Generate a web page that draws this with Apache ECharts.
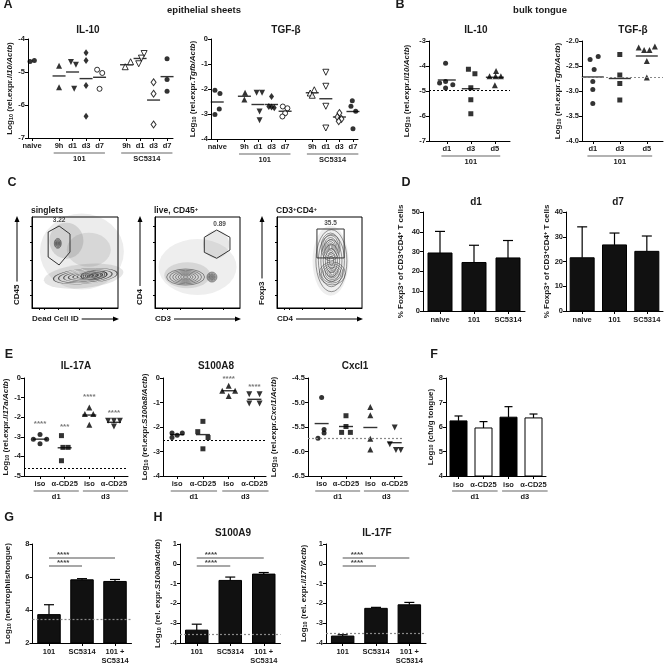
<!DOCTYPE html>
<html><head><meta charset="utf-8">
<script src="https://cdn.jsdelivr.net/npm/echarts@6/dist/echarts.min.js"></script>
<style>html,body{margin:0;padding:0;background:#fff}#c{width:667px;height:665px}</style>
</head><body><div id="c"></div>
<script>
// ================= DATA =================
// Panel A – epithelial sheets
const aLabels = ['naive','9h','d1','d3','d7','9h','d1','d3','d7'];
const aPos = [0,2,3,4,5,7,8,9,10];
const aMarkers = ['circle','triangle','triangleDown','diamond','circleOpen','triangleOpen','triangleDownOpen','diamondOpen','circle'];
const aGroups = [{name:'101', from:1, to:4}, {name:'SC5314', from:5, to:8}];
const aIL10 = [[-4.68,-4.65],[-4.81,-5.46],[-4.70,-4.78,-5.51],[-4.42,-4.65,-5.41,-6.34],[-4.93,-5.03,-5.51],[-4.84,-4.69],[-4.44,-4.58,-4.75],[-5.31,-5.66,-6.59],[-4.60,-5.23,-5.58]];
const aIL10Jit = [[-0.15,0.17],[0,0],[-0.12,0.25,0.12],[0,0,0,0],[-0.18,0.2,0],[-0.1,0.3],[0.3,0.1,-0.1],[0,0,0],[0,0,0]];
const aIL10Mean = [null,-5.12,-5.0,-5.2,-5.16,-4.78,-4.59,-5.85,-5.14];
const aTGF = [[-2.05,-2.18,-2.80,-3.02],[-2.15,-2.42],[-2.15,-2.15,-2.90,-3.25],[-2.30,-2.70,-2.72,-2.75],[-2.70,-2.77,-2.97,-3.10],[-2.03,-2.16,-2.25],[-1.33,-1.89,-2.69,-3.56],[-2.96,-3.12,-3.20,-3.29],[-2.47,-2.69,-2.89,-3.59]];
const aTGFJit = [[-0.17,0.2,0.15,-0.17],[0.05,0],[-0.1,0.3,0.12,0.12],[0,-0.2,0,0.2],[-0.17,0.17,0,-0.2],[0.15,-0.15,0],[0,0,0,0],[0,-0.15,0.15,-0.05],[-0.05,-0.15,0.2,0]];
const aTGFMean = [-2.52,-2.29,-2.62,-2.62,-2.89,-2.15,-2.39,-3.12,-2.90];

// Panel B – bulk tongue
const bLabels = ['d1','d3','d5'];
const bPos = [0,1,2];
const bMarkers = ['circle','square','triangle'];
const bGroups = [{name:'101', from:0, to:2}];
const bIL10 = [[-3.89,-4.68,-4.62,-4.75,-4.88],[-4.13,-4.31,-4.87,-5.35,-5.91],[-4.20,-4.41,-4.41,-4.41,-4.77]];
const bIL10Jit = [[-0.05,-0.3,-0.05,0.25,-0.05],[-0.1,0.17,0,0,0],[0.05,-0.22,0.03,0.25,0]];
const bIL10Mean = [-4.56,-4.91,-4.45];
const bIL10Ref = -4.95;
const bTGF = [[-2.31,-2.37,-2.57,-2.81,-2.97,-3.25],[-2.27,-2.68,-2.85,-3.18],[-2.11,-2.13,-2.18,-2.18,-2.40,-2.73]];
const bTGFJit = [[0.2,-0.1,0.05,0,0,0],[0,0,0,0],[0.3,-0.3,-0.1,0.1,0,0]];
const bTGFMean = [-2.72,-2.75,-2.30];
const bTGFRef = -2.72;

// Panel C – flow gates (axis units 0-100)
const cGate1 = [[18.8,83.5],[31.5,90.1],[44.2,81.3],[44.2,61.5],[31.5,47.3],[18.8,56],[18.8,83.5]];
const cGate2 = [[58,77.7],[72.6,85.7],[88.2,77.7],[88.2,63.7],[72.6,54.6],[58,61.2],[58,77.7]];
const cGate3 = [[47,86.8],[79,86.8],[79,55],[47,55],[47,86.8]];
const cGateLabels = ['3.22','0.89','35.5'];
const cGateLabelPos = [[31.5,96],[76,92],[63,93]];
// populations: [cx, cy, w(px), h(px), rotation]
const cPops1 = [[62,35,64,15,5],[72,36,26,9,5],[30,71,7,10,0]];
const cPops2 = [[36,34,38,16,0],[67,34,10,10,0]];
const cPops3 = [[63,67,19,28,0],[65,38,26,23,0],[64,52,31,62,0]];
// clouds: [cx, cy, w, h, rot, opacity]
const cCloud1 = [[58,62,84,76,0,0.10],[40,74,34,36,0,0.16],[66,64,44,34,0,0.12],[60,35,80,24,6,0.14]];
const cCloud2 = [[50,45,78,56,0,0.09],[38,36,46,26,0,0.14],[72,70,26,28,0,0.12]];
const cCloud3 = [[63,52,36,70,0,0.09]];

// Panel D – % Foxp3+ of CD3+CD4+ T cells
const dLabels = ['naive','101','SC5314'];
const dD1 = [29.3,24.5,26.8];
const dD1Err = [40.2,33.2,35.6];
const dD7 = [21.5,26.7,24.1];
const dD7Err = [34.0,31.5,30.3];

// Panel E
const eLabels = ['iso','α-CD25','iso','α-CD25'];
const ePos = [0,1,2,3];
const eMarkers = ['circle','square','triangle','triangleDown'];
const eGroups = [{name:'d1', from:0, to:1},{name:'d3', from:2, to:3}];
const eIL17A = [[-3.13,-2.88,-3.35,-3.13],[-2.94,-3.54,-3.54,-4.22],[-1.50,-1.84,-1.84,-2.38],[-2.18,-2.18,-2.18,-2.48]];
const eIL17AJit = [[-0.27,0,0,0.27],[-0.13,-0.07,0.14,-0.13],[0,-0.18,0.16,0],[-0.24,0,0.24,0]];
const eIL17AMean = [-3.12,-3.56,-1.89,-2.26];
const eIL17AStars = ['****','***','****','****'];
const eIL17AStarY = [-2.35,-2.5,-0.95,-1.78];
const eIL17ARef = -4.63;
const eS100A8 = [[-2.24,-2.34,-2.24,-2.43],[-1.77,-2.19,-2.43,-2.89],[-0.32,-0.52,-0.52,-0.73],[-0.66,-0.66,-1.04,-1.04]];
const eS100A8Jit = [[-0.2,0,0.2,-0.2],[0,-0.2,0.2,0],[0,-0.25,0.25,0],[-0.2,0.2,-0.2,0.2]];
const eS100A8Mean = [-2.31,-2.31,-0.52,-0.87];
const eS100A8Stars = ['','','****','****'];
const eS100A8StarY = [0,0,-0.05,-0.35];
const eS100A8Ref = -2.56;
const eCxcl1 = [[-4.90,-5.55,-5.62,-5.73],[-5.27,-5.49,-5.61,-5.61],[-5.09,-5.26,-5.74,-5.96],[-5.51,-5.85,-5.97,-5.97]];
const eCxcl1Jit = [[0,0.1,0.1,-0.15],[0,0,-0.18,0.18],[0,0,0,0],[0,-0.2,0.05,0.25]];
const eCxcl1Mean = [-5.43,-5.49,-5.51,-5.82];
const eCxcl1Ref = -5.72;

// Panel F – Log10 cfu/g tongue
const fLabels = ['iso','α-CD25','iso','α-CD25'];
const fValues = [6.25,5.96,6.40,6.37];
const fErr = [6.45,6.22,6.83,6.53];

// Panel G / H
const ghLabels = ['101','SC5314','101 +\nSC5314'];
const gValues = [3.72,5.83,5.73];
const gErr = [4.32,5.90,5.85];
const gRef = 3.45;
const gSig = [7.15,6.70];
const hS100A9 = [-3.35,-0.84,-0.52];
const hS100A9Err = [-3.05,-0.67,-0.44];
const hS100A9Ref = -3.55;
const hIL17F = [-3.65,-2.25,-2.07];
const hIL17FErr = [-3.58,-2.20,-1.95];
const hIL17FRef = -3.52;
const hSig = [0.29,-0.08];
const sigEnds = [2,1];

// ================= BUILD =================
const FONT = '"Liberation Sans", Arial, Helvetica, sans-serif';
const TXT = '#1a1a1a';
const chart = echarts.init(document.getElementById('c'), null, {renderer:'canvas', width:667, height:665});
const grids=[], xAxes=[], yAxes=[], series=[], G=[], decor=[];
const mctx = document.createElement('canvas').getContext('2d');
function tw(t, f){ mctx.font=f; return mctx.measureText(t).width; }
const LABFONT = 'bold 7.5px '+FONT;

const richName = {
  n:{fontFamily:FONT, fontWeight:'bold', fontSize:8, color:TXT},
  i:{fontFamily:FONT, fontWeight:'bold', fontStyle:'italic', fontSize:8, color:TXT},
  s:{fontFamily:FONT, fontWeight:'bold', fontSize:5.5, color:TXT, verticalAlign:'bottom', padding:[3,0,0,0]},
  p:{fontFamily:FONT, fontWeight:'bold', fontSize:5.5, color:TXT, verticalAlign:'top', padding:[0,0,3,0]}
};
function logName(gene){ return '{n|Log}{s|10}{n| (rel.expr.}{i|'+gene+'/Actb}{n|)}'; }
function logName2(gene){ return '{n|Log}{s|10}{n| (rel. expr.}{i|'+gene+'/Actb}{n|)}'; }

function markerStyle(m){
  const open = m.endsWith('Open'); const b = open ? m.slice(0,-4) : m;
  return {
    symbol: b==='triangleDown' ? 'triangle' : (b==='square' ? 'rect' : b),
    symbolRotate: b==='triangleDown' ? 180 : 0,
    symbolSize: b==='circle' ? 5 : (b==='diamond' ? [5,7] : (b==='square' ? 5 : 6)),
    itemStyle: open ? {color:'#fff', borderColor:'#000', borderWidth:1} : {color:'#000'}
  };
}
function yAxisCfg(gi, c){
  return {gridIndex:gi, type:'value', min:c.yMin, max:c.yMax, interval:c.yInt,
    axisLine:{show:true, onZero:false, lineStyle:{color:'#000', width:1}},
    axisTick:{show:true, length:3, lineStyle:{color:'#000'}},
    axisLabel:{fontFamily:FONT, fontWeight:'bold', fontSize:7.5, color:TXT, margin:3,
      formatter: v => c.yDec ? v.toFixed(c.yDec) : String(v)},
    splitLine:{show:false},
    name:c.yName, nameLocation:'middle', nameRotate:90, nameGap:c.yGap,
    nameTextStyle:{rich:richName}};
}

function scatterPanel(c){
  const gi = grids.length;
  grids.push({left:c.left, top:c.top, width:c.width, height:c.height});
  xAxes.push({gridIndex:gi, type:'value', min:c.xMin, max:c.xMax,
    axisLine:{show:true, onZero:false, lineStyle:{color:'#000', width:1}},
    axisTick:{show:true, customValues:c.pos, length:3, lineStyle:{color:'#000'}},
    axisLabel:{show:true, customValues:c.pos, fontFamily:FONT, fontWeight:'bold', fontSize:7.5, color:TXT, margin:4,
      formatter: v => { const i=c.pos.indexOf(Math.round(v)); return i>=0 ? c.labels[i] : ''; }},
    splitLine:{show:false}});
  yAxes.push(yAxisCfg(gi, c));
  c.values.forEach((vals, g) => {
    const ms = markerStyle(c.markers[g]);
    series.push(Object.assign({type:'scatter', xAxisIndex:gi, yAxisIndex:gi, z:3, clip:false,
      data: vals.map((v,k) => [c.pos[g] + (c.jit[g][k]||0), v])}, ms));
  });
  const meanSeries = {type:'scatter', xAxisIndex:gi, yAxisIndex:gi, symbol:'rect', symbolSize:[c.meanW,1.4], z:2,
    itemStyle:{color:'#000'},
    data: c.means.map((m,g) => m===null ? null : [c.pos[g], m]).filter(d => d)};
  if (c.ref !== undefined) {
    meanSeries.markLine = {silent:true, symbol:['none','none'], label:{show:false},
      lineStyle:{type:[2,2], color:c.refColor, width:1.2}, data:[{yAxis:c.ref}]};
  }
  series.push(meanSeries);
  if (c.stars) {
    series.push({type:'scatter', xAxisIndex:gi, yAxisIndex:gi, symbolSize:0, clip:false, z:4,
      data: c.stars.map((s,g) => s ? {value:[c.pos[g], c.starY[g]], name:s} : null).filter(d=>d),
      label:{show:true, position:'inside', formatter: p => p.name, fontFamily:FONT, fontSize:8, color:'#555', fontWeight:'bold'}});
  }
  if (c.groups) decor.push({gi, groups:c.groups, bottom:c.top+c.height, vals:c.pos, labels:c.labels});
  return gi;
}

function barPanel(c){
  const gi = grids.length;
  grids.push({left:c.left, top:c.top, width:c.width, height:c.height});
  xAxes.push({gridIndex:gi, type:'category', data:c.labels, boundaryGap:true,
    axisLine:{show:true, onZero:false, lineStyle:{color:'#000', width:1}},
    axisTick:{show:true, alignWithLabel:true, length:3, lineStyle:{color:'#000'}},
    axisLabel:{interval:0, fontFamily:FONT, fontWeight:'bold', fontSize:7.5, color:TXT, margin:4, lineHeight:9},
    splitLine:{show:false}});
  yAxes.push(yAxisCfg(gi, c));
  series.push({type:'custom', xAxisIndex:gi, yAxisIndex:gi, z:3,
    data: c.values.map((v,k) => [k, v, c.errs[k]]),
    renderItem: (params, api) => {
      const k = api.value(0);
      const base = api.coord([k, c.yMin]), top = api.coord([k, api.value(1)]), et = api.coord([k, api.value(2)]);
      const w = c.barW, fill = c.fills ? c.fills[k] : '#111';
      return {type:'group', children:[
        {type:'line', shape:{x1:top[0], y1:top[1], x2:et[0], y2:et[1]}, style:{stroke:'#000', lineWidth:1.2}},
        {type:'line', shape:{x1:et[0]-c.capW/2, y1:et[1], x2:et[0]+c.capW/2, y2:et[1]}, style:{stroke:'#000', lineWidth:1.2}},
        {type:'rect', shape:{x:base[0]-w/2, y:top[1], width:w, height:base[1]-top[1]}, style:{fill, stroke:'#000', lineWidth:1}}
      ]};
    }});
  const ml = [];
  if (c.ref !== undefined) ml.push({yAxis:c.ref, lineStyle:{type:[2,2], color:'#888', width:1.2}, label:{show:false}});
  if (c.sig) c.sig.forEach((y,j) => ml.push([
    {coord:[0, y], lineStyle:{type:'solid', color:'#8a8a8a', width:1.6},
     label:{show:true, formatter:'****', position:'insideStartTop', distance:[8,-1], fontFamily:FONT, fontWeight:'bold', fontSize:8, color:'#444'}},
    {coord:[c.sigEnd[j], y]}]));
  if (ml.length) series.push({type:'scatter', xAxisIndex:gi, yAxisIndex:gi, symbolSize:0, data:[[0, c.yMin]],
    markLine:{silent:true, symbol:['none','none'], data:ml}});
  if (c.groups) decor.push({gi, groups:c.groups, bottom:c.top+c.height, vals:c.labels.map((l,k)=>k), labels:c.labels});
  return gi;
}

function flowPanel(c){
  const gi = grids.length;
  grids.push({left:c.left, top:c.top, width:c.width, height:c.height, show:true, borderColor:'#000', borderWidth:1, backgroundColor:'#fff'});
  xAxes.push({gridIndex:gi, type:'value', min:0, max:100, axisLine:{show:true, onZero:false, lineStyle:{color:'#000'}},
    axisTick:{show:true, customValues:[8,14,30,55,80], length:2, lineStyle:{color:'#000'}}, axisLabel:{show:false}, splitLine:{show:false}});
  yAxes.push({gridIndex:gi, type:'value', min:0, max:100, axisLine:{show:true, onZero:false, lineStyle:{color:'#000'}},
    axisTick:{show:true, customValues:[14,30,52,72,90], length:2, lineStyle:{color:'#000'}}, axisLabel:{show:false}, splitLine:{show:false}});
  series.push({type:'scatter', xAxisIndex:gi, yAxisIndex:gi, z:1, silent:true,
    data: c.cloud.map(d => ({value:d, itemStyle:{opacity:d[5]}})),
    symbolSize: v => [v[2], v[3]], symbolRotate: v => v[4], itemStyle:{color:'#444'}});
  const rings = [];
  c.pops.forEach(p => [1,0.84,0.68,0.53,0.39,0.26,0.14].forEach(f => rings.push([p[0],p[1],p[2]*f,p[3]*f,p[4]])));
  series.push({type:'scatter', xAxisIndex:gi, yAxisIndex:gi, z:2, silent:true, data:rings,
    symbolSize: v => [v[2], v[3]], symbolRotate: v => v[4],
    itemStyle:{color:'rgba(0,0,0,0)', borderColor:'#333', borderWidth:0.6}});
  series.push({type:'line', xAxisIndex:gi, yAxisIndex:gi, z:4, data:c.gate, symbol:'none',
    lineStyle:{color:'#333', width:1}});
  series.push({type:'scatter', xAxisIndex:gi, yAxisIndex:gi, z:5, symbolSize:0,
    data:[{value:c.labelPos, name:c.label}],
    label:{show:true, position:'inside', formatter:p=>p.name, fontFamily:FONT, fontWeight:'bold', fontSize:6.5, color:'#222'}});
  c.gi = gi;
  return c;
}

// ---- A ----
scatterPanel({left:28, top:39, width:145, height:99, xMin:-0.3, xMax:10.44, pos:aPos, labels:aLabels, markers:aMarkers,
  values:aIL10, jit:aIL10Jit, means:aIL10Mean, meanW:13, yMin:-7, yMax:-4, yInt:1, yName:logName('Il10'), yGap:14, groups:aGroups});
scatterPanel({left:211, top:39, width:147, height:100, xMin:-0.46, xMax:10.37, pos:aPos, labels:aLabels, markers:aMarkers,
  values:aTGF, jit:aTGFJit, means:aTGFMean, meanW:13, yMin:-4, yMax:0, yInt:1, yName:logName('Tgfb'), yGap:14, groups:aGroups});
// ---- B ----
scatterPanel({left:429, top:41, width:81, height:100, xMin:-0.74, xMax:2.63, pos:bPos, labels:bLabels, markers:bMarkers,
  values:bIL10, jit:bIL10Jit, means:bIL10Mean, meanW:18, yMin:-7, yMax:-3, yInt:1, yName:logName('Il10'), yGap:18,
  ref:bIL10Ref, refColor:'#000', groups:bGroups});
scatterPanel({left:582, top:41, width:81, height:100, xMin:-0.4, xMax:2.6, pos:bPos, labels:bLabels, markers:bMarkers,
  values:bTGF, jit:bTGFJit, means:bTGFMean, meanW:22, yMin:-4, yMax:-2, yInt:0.5, yDec:1, yName:logName('Tgfb'), yGap:18,
  ref:bTGFRef, refColor:'#888', groups:bGroups});
// ---- C ----
const flows = [
  flowPanel({left:32, top:217, width:86, height:91, gate:cGate1, label:cGateLabels[0], labelPos:cGateLabelPos[0], pops:cPops1, cloud:cCloud1,
    title:'{t|singlets}', xName:'Dead Cell ID', yName:'CD45'}),
  flowPanel({left:155, top:217, width:85, height:91, gate:cGate2, label:cGateLabels[1], labelPos:cGateLabelPos[1], pops:cPops2, cloud:cCloud2,
    title:'{t|live, CD45}{p|+}', xName:'CD3', yName:'CD4'}),
  flowPanel({left:277, top:217, width:85, height:91, gate:cGate3, label:cGateLabels[2], labelPos:cGateLabelPos[2], pops:cPops3, cloud:cCloud3,
    title:'{t|CD3}{p|+}{t|CD4}{p|+}', xName:'CD4', yName:'Foxp3'})
];
// ---- D ----
const dName = '{n|% Foxp3}{p|+}{n| of CD3}{p|+}{n|CD4}{p|+}{n| T cells}';
barPanel({left:423, top:212, width:102, height:99, labels:dLabels, values:dD1, errs:dD1Err, barW:24, capW:10,
  yMin:0, yMax:50, yInt:10, yName:dName, yGap:18});
barPanel({left:566, top:212, width:97, height:99, labels:dLabels, values:dD7, errs:dD7Err, barW:24, capW:10,
  yMin:0, yMax:40, yInt:10, yName:dName, yGap:12});
// ---- E ----
scatterPanel({left:24, top:378, width:104, height:98, xMin:-0.65, xMax:3.57, pos:ePos, labels:eLabels, markers:eMarkers,
  values:eIL17A, jit:eIL17AJit, means:eIL17AMean, meanW:14, yMin:-5, yMax:0, yInt:1, yName:logName('Il17a'), yGap:14,
  ref:eIL17ARef, refColor:'#000', stars:eIL17AStars, starY:eIL17AStarY, groups:eGroups});
scatterPanel({left:163, top:378, width:103, height:98, xMin:-0.55, xMax:3.45, pos:ePos, labels:eLabels, markers:eMarkers,
  values:eS100A8, jit:eS100A8Jit, means:eS100A8Mean, meanW:14, yMin:-4, yMax:0, yInt:1, yName:logName('S100a8'), yGap:12,
  ref:eS100A8Ref, refColor:'#000', stars:eS100A8Stars, starY:eS100A8StarY, groups:eGroups});
scatterPanel({left:308, top:378, width:94, height:98, xMin:-0.56, xMax:3.3, pos:ePos, labels:eLabels, markers:eMarkers,
  values:eCxcl1, jit:eCxcl1Jit, means:eCxcl1Mean, meanW:14, yMin:-6.5, yMax:-4.5, yInt:0.5, yDec:1, yName:logName('Cxcl1'), yGap:30,
  ref:eCxcl1Ref, refColor:'#888', groups:eGroups});
// ---- F ----
barPanel({left:446, top:378, width:100, height:98, labels:fLabels, values:fValues, errs:fErr, barW:17, capW:8,
  fills:['#000','#fff','#000','#fff'], yMin:4, yMax:8, yInt:1, yName:'{n|Log}{s|10}{n| (cfu/g tongue)}', yGap:10, groups:eGroups});
// ---- G / H ----
barPanel({left:32.5, top:544, width:99, height:99, labels:ghLabels, values:gValues, errs:gErr, barW:22.5, capW:10,
  yMin:2, yMax:8, yInt:2, yName:'{n|Log}{s|10}{n| (neutrophils/tongue)}', yGap:20, ref:gRef, sig:gSig, sigEnd:sigEnds});
barPanel({left:180, top:544, width:100.5, height:99, labels:ghLabels, values:hS100A9, errs:hS100A9Err, barW:22.5, capW:10,
  yMin:-4, yMax:1, yInt:1, yName:logName2('S100a9'), yGap:18, ref:hS100A9Ref, sig:hSig, sigEnd:sigEnds});
barPanel({left:326, top:544, width:100, height:99, labels:ghLabels, values:hIL17F, errs:hIL17FErr, barW:22.5, capW:10,
  yMin:-4, yMax:1, yInt:1, yName:logName2('Il17f'), yGap:18, ref:hIL17FRef, sig:hSig, sigEnd:sigEnds});

chart.setOption({animation:false, backgroundColor:'#fff', textStyle:{fontFamily:FONT},
  grid:grids, xAxis:xAxes, yAxis:yAxes, series});

// ================= TEXT / DECOR =================
function txt(x, y, text, size, opts){
  G.push(Object.assign({type:'text', x, y, silent:true, style:Object.assign({text, fill:TXT,
    font:'bold '+size+'px '+FONT, align:'center', verticalAlign:'middle'}, (opts||{}).style||{})}, (opts||{}).el||{}));
}
[['A',8,5],['B',400,5],['C',12,183],['D',406,183],['E',9,355],['F',434,355],['G',9,518],['H',158,518]].forEach(l => txt(l[1], l[2], l[0], 12.5));
txt(204,10,'epithelial sheets',9.5); txt(540,10,'bulk tongue',9.5);
txt(88,30,'IL-10',10); txt(286,30,'TGF-β',10); txt(476,30,'IL-10',10); txt(633,30,'TGF-β',10);
txt(476,202,'d1',10); txt(618,202,'d7',10);
txt(76,366,'IL-17A',10); txt(216,366,'S100A8',10); txt(355,366,'Cxcl1',10);
txt(233,533,'S100A9',10); txt(377,533,'IL-17F',10);

decor.forEach(d => {
  d.groups.forEach(g => {
    const x1 = chart.convertToPixel({xAxisIndex:d.gi}, d.vals[g.from]);
    const x2 = chart.convertToPixel({xAxisIndex:d.gi}, d.vals[g.to]);
    const l1 = x1 - tw(d.labels[g.from], LABFONT)/2 - 1;
    const l2 = x2 + tw(d.labels[g.to], LABFONT)/2 + 1;
    const y = d.bottom + 15;
    G.push({type:'line', silent:true, shape:{x1:l1, y1:y, x2:l2, y2:y}, style:{stroke:'#999', lineWidth:1.4}});
    txt((l1+l2)/2, y + 5.5, g.name, 7.5);
  });
});

const richT = {t:{fontFamily:FONT, fontWeight:'bold', fontSize:8.5, fill:TXT, color:TXT},
               p:{fontFamily:FONT, fontWeight:'bold', fontSize:6, fill:TXT, color:TXT, verticalAlign:'top', padding:[0,0,3,0]}};
flows.forEach(f => {
  const g = grids[f.gi];
  const L=g.left, T=g.top, R=g.left+g.width, B=g.top+g.height;
  G.push({type:'text', x:L-1, y:T-6, silent:true, style:{text:f.title, rich:richT, align:'left', verticalAlign:'middle'}});
  const font = 'bold 8px '+FONT;
  const ax = L - 15;
  const yLen = tw(f.yName, font), yb = B - 3;
  G.push({type:'text', x:ax, y:yb, rotation:Math.PI/2, silent:true, style:{text:f.yName, font, fill:TXT, align:'left', verticalAlign:'middle'}});
  G.push({type:'line', silent:true, shape:{x1:ax, y1:yb-yLen-3, x2:ax, y2:T+4}, style:{stroke:'#000', lineWidth:1}});
  G.push({type:'polygon', silent:true, shape:{points:[[ax,T-1],[ax-2.5,T+5],[ax+2.5,T+5]]}, style:{fill:'#000'}});
  const xy = B + 11, xLen = tw(f.xName, font);
  G.push({type:'text', x:L, y:xy, silent:true, style:{text:f.xName, font, fill:TXT, align:'left', verticalAlign:'middle'}});
  G.push({type:'line', silent:true, shape:{x1:L+xLen+3, y1:xy, x2:R-3, y2:xy}, style:{stroke:'#000', lineWidth:1}});
  G.push({type:'polygon', silent:true, shape:{points:[[R+1,xy],[R-5,xy-2.5],[R-5,xy+2.5]]}, style:{fill:'#000'}});
});

chart.setOption({graphic:G});
</script></body></html>
